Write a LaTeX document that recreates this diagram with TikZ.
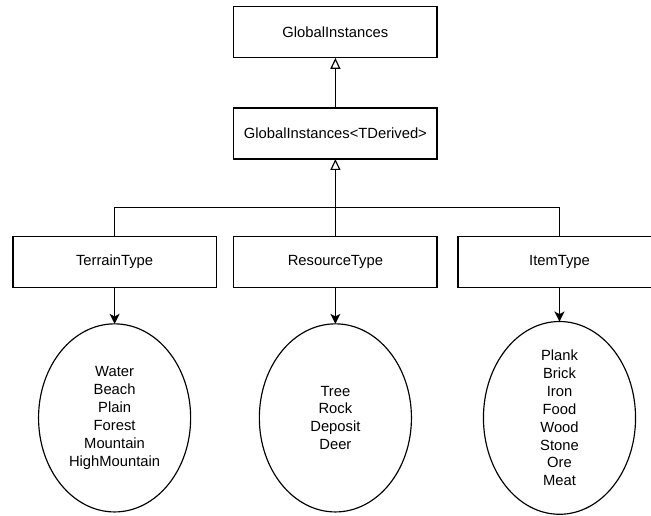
\documentclass[tikz,border=0pt]{standalone}
\usepackage{fontspec}
\setmainfont{Liberation Sans}
\usepackage{tikz}
\usetikzlibrary{arrows.meta,shapes.geometric}

\tikzset{
  classbox/.style={draw, rectangle, minimum width=6.77cm, minimum height=1.7cm,
    inner sep=0pt, outer sep=0pt},
  valueset/.style={draw, ellipse, minimum width=5.07cm, minimum height=6.27cm,
    inner sep=0pt, outer sep=0pt, align=center},
  inherit/.style={-{Triangle[open,length=10.4pt,width=9.5pt]}},
  holds/.style={-{Stealth[length=9.5pt,width=9.5pt,inset=2.5pt]}}
}

\begin{document}
\begin{tikzpicture}[line width=1.1pt, line join=miter,
  font=\fontsize{14pt}{17pt}\selectfont]

\useasboundingbox (0,0) rectangle (21.7,17.2);

% =========================================================
% Base classes
% =========================================================
\node[classbox] (global) at (11.18,16.12) {GlobalInstances};
\node[classbox] (derived) at (11.18,12.75) {GlobalInstances<TDerived>};

\draw[inherit] (derived) -- (global);

% =========================================================
% Type classes
% =========================================================
\node[classbox] (terrain) at (3.82,8.48) {TerrainType};
\node[classbox] (resource) at (11.18,8.48) {ResourceType};
\node[classbox] (item) at (18.65,8.48) {ItemType};

% Shared branch line
\coordinate (bus) at (11.18,10.27);
\draw (terrain.north) |- (bus);
\draw (item.north) |- (bus);
\draw[inherit] (resource.north) -- (derived.south);

% =========================================================
% Values
% =========================================================
\node[valueset] (terrainvals) at (3.82,3.27)
{Water\\Beach\\Plain\\Forest\\Mountain\\HighMountain};

\node[valueset] (resourcevals) at (11.18,3.27)
{Tree\\Rock\\Deposit\\Deer};

\node[valueset] (itemvals) at (18.65,3.27)
{Plank\\Brick\\Iron\\Food\\Wood\\Stone\\Ore\\Meat};

\draw[holds] (terrain) -- (terrainvals);
\draw[holds] (resource) -- (resourcevals);
\draw[holds] (item) -- (itemvals);

\end{tikzpicture}
\end{document}
